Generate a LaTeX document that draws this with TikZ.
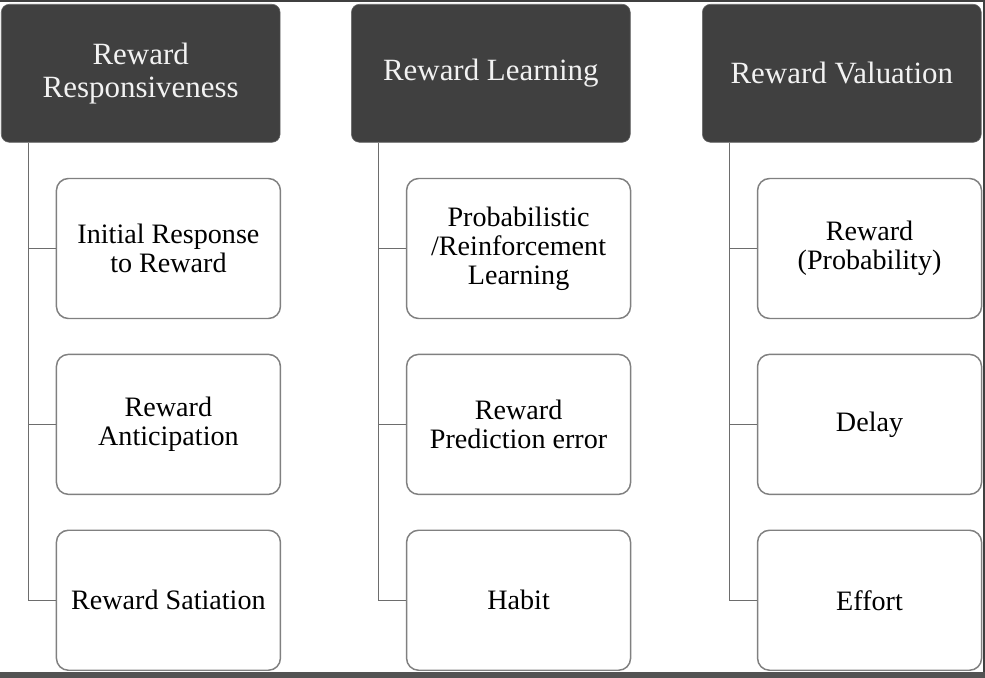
\documentclass[tikz,border=0pt]{standalone}
\usepackage{fontspec}
\setmainfont{Liberation Serif}
\usetikzlibrary{positioning}
\definecolor{headgray}{HTML}{404040}
\definecolor{linegray}{HTML}{808080}

\begin{document}
\begin{tikzpicture}[
        node distance=0.86cm and 1.8cm,
        head/.style={draw=headgray!80, fill=headgray, text=white!95!black, rounded corners=0.2cm,
            minimum width=6.97cm, minimum height=3.45cm, align=center, inner sep=2pt,
            font=\fontsize{22}{23.5}\selectfont},
        item/.style={draw=linegray, line width=1.05pt, fill=white, rounded corners=0.3cm,
            minimum width=5.6cm, minimum height=3.5cm, align=center, inner sep=2pt,
            font=\fontsize{20}{20.5}\selectfont},
        link/.style={draw=linegray!85!black, line width=0.9pt}
    ]
    \useasboundingbox (0,0) rectangle (24.625,-16.95);

    % --- Screen edges ---
    \fill[headgray] (0,0) rectangle (24.625,-0.05);
    \fill[headgray] (24.575,0) rectangle (24.625,-16.95);
    \fill[headgray!90] (0,-16.8) rectangle (24.625,-16.95);

    % --- Headers ---
    \node[head, anchor=north west] (resp) at (0.025,-0.1) {Reward\\Responsiveness};
    \node[head, right=1.77cm of resp] (learn) {Reward Learning};
    \node[head, right=1.79cm of learn] (valu) {Reward Valuation};

    % --- Column 1 ---
    \node[item, below left=0.88cm and -0.02cm of resp.south east] (resp1) {Initial Response\\to Reward};
    \node[item, below=of resp1] (resp2) {Reward\\Anticipation};
    \node[item, below=of resp2] (resp3) {Reward Satiation};

    % --- Column 2 ---
    \node[item, below left=0.88cm and -0.02cm of learn.south east] (learn1) {Probabilistic\\/Reinforcement\\Learning};
    \node[item, below=of learn1] (learn2) {Reward\\Prediction error};
    \node[item, below=of learn2] (learn3) {Habit};

    % --- Column 3 ---
    \node[item, below left=0.88cm and -0.02cm of valu.south east] (valu1) {Reward\\(Probability)};
    \node[item, below=of valu1] (valu2) {Delay};
    \node[item, below=of valu2] (valu3) {Effort};

    % --- Connections ---
    \foreach \h in {resp, learn, valu} {
        \coordinate (\h-trunk) at ([xshift=0.68cm]\h.south west);
        \draw[link] (\h-trunk) |- (\h3.west);
        \draw[link] (\h-trunk |- \h1.west) -- (\h1.west);
        \draw[link] (\h-trunk |- \h2.west) -- (\h2.west);
    }

\end{tikzpicture}
\end{document}
